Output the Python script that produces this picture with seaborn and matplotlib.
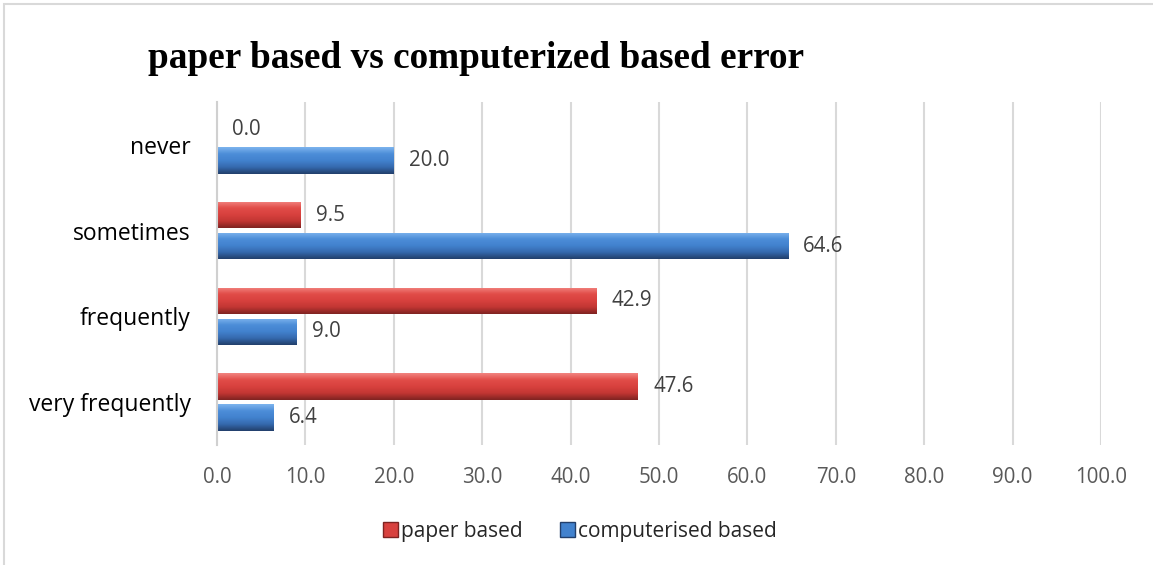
import numpy as np
import pandas as pd
import matplotlib
matplotlib.use("Agg")
import matplotlib.pyplot as plt
from matplotlib.colors import LinearSegmentedColormap
from matplotlib.patches import Rectangle, Patch
import seaborn as sns

# Survey data: how often errors occur, in percent
categories = ["never", "sometimes", "frequently", "very frequently"]
paper_based = [0.0, 9.5, 42.9, 47.6]
computerised_based = [20.0, 64.6, 9.0, 6.4]
series_names = ["paper based", "computerised based"]
x_ticks = [0, 10, 20, 30, 40, 50, 60, 70, 80, 90, 100]

df = pd.DataFrame({
    "category": categories * 2,
    "value": paper_based + computerised_based,
    "series": [series_names[0]] * 4 + [series_names[1]] * 4,
})

sns.set_theme(style="white")
plt.rcParams["font.family"] = ["Open Sans", "DejaVu Sans"]

fig = plt.figure(figsize=(11.53, 5.65), dpi=100)
ax = fig.add_axes([0.1882, 0.2124, 0.7667, 0.6071])

palette = {"paper based": "#D8413E", "computerised based": "#4282CE"}
sns.barplot(data=df, y="category", x="value", hue="series", order=categories,
            hue_order=series_names, palette=palette, orient="h",
            width=0.72, gap=0.14, ax=ax, legend=False, saturation=1)

# Bevel-like shading for each bar
shades = {
    "paper based": ["#F28480", "#E14C48", "#D8413E", "#C23633", "#7E2321"],
    "computerised based": ["#7DB4EE", "#4C8DD8", "#4282CE", "#3569AE", "#223F6B"],
}
for name, cont in zip(series_names, ax.containers):
    cmap = LinearSegmentedColormap.from_list(name, shades[name])
    grad = np.linspace(0, 1, 64).reshape(-1, 1)
    for p in cont.patches:
        x0, y0 = p.get_x(), p.get_y()
        w, h = p.get_width(), p.get_height()
        if w <= 0:
            continue
        p.set_edgecolor("none")
        im = ax.imshow(grad, cmap=cmap, aspect="auto",
                       extent=[x0, x0 + w, y0 + h, y0], origin="upper",
                       zorder=p.get_zorder() + 0.1, interpolation="bicubic")
        im.set_clip_path(p)
    ax.bar_label(cont, fmt="%.1f", padding=11, fontsize=14.8, color="#404040")

ax.set_xlim(0, 100)
ax.set_ylim(len(categories) - 0.5, -0.5)
ax.set_xticks(x_ticks)
ax.set_xticklabels([f"{v:.1f}" for v in x_ticks], fontsize=14.8, color="#595959")
ax.tick_params(axis="x", pad=16, length=0)
ax.tick_params(axis="y", pad=19, length=0, labelsize=16.5, labelcolor="#000000")
ax.set_xlabel("")
ax.set_ylabel("")
ax.xaxis.grid(True, color="#D9D9D9", linewidth=1.5)
ax.set_axisbelow(True)
for s in ["top", "right", "bottom"]:
    ax.spines[s].set_visible(False)
ax.spines["left"].set_color("#D0D0D0")
ax.spines["left"].set_linewidth(1.5)

fig.text(0.128, 0.897, "paper based vs computerized based error",
         fontsize=26.8, fontweight="bold", family="Liberation Serif",
         ha="left", va="center", color="#000000")

handles = [Patch(facecolor=palette[n], edgecolor="#7E2321" if i == 0 else "#223F6B",
                 label=n) for i, n in enumerate(series_names)]
fig.legend(handles=handles, loc="center", bbox_to_anchor=(0.503, 0.06),
           ncol=2, frameon=False, fontsize=15, handlelength=0.7, handleheight=0.7,
           handletextpad=0.15, columnspacing=1.8, labelcolor="#262626")

# Chart-area frame (top and left edges)
fig.add_artist(Rectangle((4 / 1153, -0.1), 1.2, 1 - 4 / 565 + 0.1,
                         transform=fig.transFigure, fill=False,
                         edgecolor="#D9D9D9", linewidth=1.5))

fig.savefig("out.png", dpi=100)
